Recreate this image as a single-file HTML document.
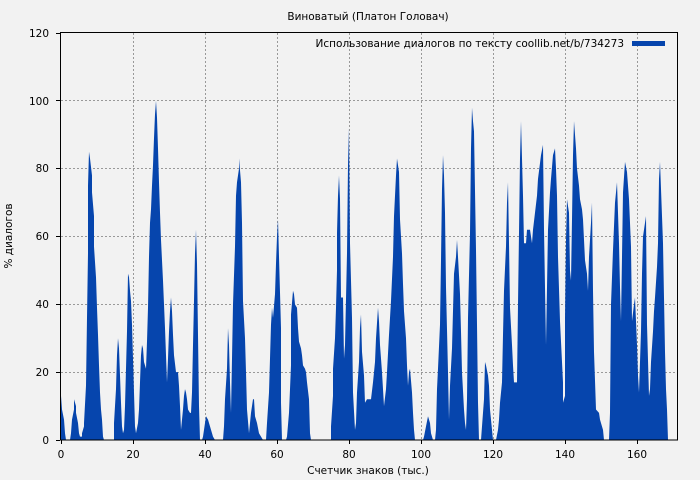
<!DOCTYPE html>
<html><head><meta charset="utf-8"><style>
html,body{margin:0;padding:0;background:#f2f2f2;}
svg{display:block;font-family:"DejaVu Sans","Liberation Sans",sans-serif;}
</style></head><body>
<svg width="700" height="480" viewBox="0 0 700 480" xmlns="http://www.w3.org/2000/svg">
<rect width="700" height="480" fill="#f2f2f2"/>
<g stroke="#999" stroke-width="1" stroke-dasharray="2,2">
<line x1="133.5" y1="33" x2="133.5" y2="440"/><line x1="205.5" y1="33" x2="205.5" y2="440"/>
<line x1="277.5" y1="33" x2="277.5" y2="440"/><line x1="349.5" y1="33" x2="349.5" y2="440"/>
<line x1="421.5" y1="33" x2="421.5" y2="440"/><line x1="493.5" y1="33" x2="493.5" y2="440"/>
<line x1="565.5" y1="33" x2="565.5" y2="440"/><line x1="637.5" y1="33" x2="637.5" y2="440"/>
<line x1="61" y1="372.5" x2="678" y2="372.5"/><line x1="61" y1="304.5" x2="678" y2="304.5"/>
<line x1="61" y1="236.5" x2="678" y2="236.5"/><line x1="61" y1="168.5" x2="678" y2="168.5"/>
<line x1="61" y1="100.5" x2="678" y2="100.5"/>
</g>
<g transform="translate(0,440) scale(1,-3.3917)">
<polygon fill="#0645ad" points="61,0 61,13 62,9 64,6 65,2 66,0 70,0 71,2 72,6 74,9 74,12 76,10 76,8 78,5 79,2 80,1 82,1 82,2 84,4 84,5 86,16 87,36 88,55 88,75 89,85 90,83 92,78 92,73 94,66 94,57 96,48 97,39 98,31 99,22 100,14 101,9 102,6 103,1 104,0 114,0 114,5 116,15 117,25 118,30 119,27 120,19 121,11 122,4 123,2 124,3 125,10 126,21 127,32 128,49 129,48 130,44 131,41 132,34 133,24 134,14 135,4 136,2 138,5 139,9 140,17 141,25 142,28 143,27 144,23 146,21 147,29 148,39 149,54 150,64 151,68 152,75 153,81 154,89 155,96 156,100 157,95 158,86 159,76 160,67 161,59 162,53 163,47 164,40 165,33 166,25 167,17 168,24 169,32 170,38 171,42 172,38 173,31 174,25 176,20 178,20 179,16 180,10 181,3 182,6 183,9 184,13 185,15 186,14 187,12 188,9 190,8 191,8 192,14 193,28 194,41 195,55 196,62 197,52 198,31 199,10 200,0 202,0 203,1 204,3 205,5 206,7 208,6 209,5 210,4 213,1 215,0 223,0 224,4 225,12 227,21 228,33 229,28 230,17 231,8 232,24 233,40 235,57 236,72 237,76 239,80 239,83 241,76 242,64 243,41 245,30 246,20 247,9 249,2 250,5 251,8 253,12 254,12 255,7 257,5 259,2 263,0 266,0 267,5 269,14 270,24 271,34 272,39 273,36 275,43 276,52 277,60 278,65 279,54 281,33 281,11 282,0 286,0 287,1 289,8 291,22 291,37 293,44 294,43 295,40 297,39 298,33 299,29 301,27 302,25 303,22 305,21 306,20 307,17 309,12 310,2 311,0 331,0 331,4 333,13 333,21 335,30 336,39 337,50 337,61 338,72 339,78 340,71 341,42 343,42 344,24 345,28 347,55 348,81 349,92 350,58 352,36 353,14 355,3 356,5 357,14 359,23 360,33 361,37 362,26 364,19 365,11 367,12 369,12 371,12 373,17 375,23 376,30 378,39 379,35 380,28 382,20 384,10 386,15 387,20 389,31 391,41 393,54 394,66 396,78 397,83 399,79 400,65 402,55 403,46 404,38 406,30 407,22 408,16 409,20 410,21 412,14 413,8 414,3 415,0 423,0 424,1 426,4 428,7 430,5 431,2 433,0 435,0 436,3 437,15 438,21 440,34 441,53 442,74 443,84 444,78 445,67 446,45 448,20 449,6 450,16 452,27 453,38 454,49 456,54 457,59 458,54 460,43 461,32 462,20 464,9 465,5 466,3 467,12 468,36 470,61 471,86 472,98 473,94 474,91 476,56 477,34 478,11 479,0 481,0 482,4 484,12 485,23 486,22 488,19 489,16 490,9 492,3 493,0 496,0 498,3 499,6 500,11 502,17 503,31 504,44 506,57 507,70 508,76 509,58 510,39 512,28 513,22 514,17 517,17 518,40 519,61 520,83 521,94 523,72 524,58 526,58 527,62 530,62 532,58 533,62 535,67 537,72 538,77 541,84 543,87 544,62 545,45 546,28 547,45 548,62 550,73 551,77 553,84 555,86 556,80 557,72 558,54 560,35 562,23 563,17 563,11 565,13 565,36 566,59 567,71 569,67 570,50 571,47 572,65 573,84 574,94 576,86 577,80 579,75 580,71 582,68 583,65 585,53 587,49 588,44 589,54 591,64 592,70 593,44 594,26 596,9 599,8 600,6 603,3 604,0 609,0 610,8 611,40 613,56 615,70 617,76 619,58 620,45 621,35 622,54 623,73 625,82 627,79 629,71 631,57 632,35 634,40 635,42 637,28 638,19 639,14 641,32 642,49 643,60 645,64 646,66 647,34 649,13 650,15 651,23 653,32 654,38 655,42 657,51 658,58 659,77 660,82 661,74 663,58 664,42 665,26 666,15 667,9 668,0"/>
</g>
<rect x="60.5" y="32.5" width="617" height="407.5" fill="none" stroke="#000" stroke-width="1"/>
<g stroke="#000" stroke-width="1">
<line x1="61.5" y1="440" x2="61.5" y2="444"/><line x1="133.5" y1="440" x2="133.5" y2="444"/>
<line x1="205.5" y1="440" x2="205.5" y2="444"/><line x1="277.5" y1="440" x2="277.5" y2="444"/>
<line x1="349.5" y1="440" x2="349.5" y2="444"/><line x1="421.5" y1="440" x2="421.5" y2="444"/>
<line x1="493.5" y1="440" x2="493.5" y2="444"/><line x1="565.5" y1="440" x2="565.5" y2="444"/>
<line x1="637.5" y1="440" x2="637.5" y2="444"/>
<line x1="56" y1="440.5" x2="60" y2="440.5"/><line x1="56" y1="372.5" x2="60" y2="372.5"/>
<line x1="56" y1="304.5" x2="60" y2="304.5"/><line x1="56" y1="236.5" x2="60" y2="236.5"/>
<line x1="56" y1="168.5" x2="60" y2="168.5"/><line x1="56" y1="100.5" x2="60" y2="100.5"/>
<line x1="56" y1="33.5" x2="60" y2="33.5"/>
</g>
<g font-size="10.5" fill="#000" text-anchor="middle">
<text x="61" y="458">0</text><text x="133" y="458">20</text><text x="205" y="458">40</text>
<text x="277" y="458">60</text><text x="349" y="458">80</text><text x="421" y="458">100</text>
<text x="493" y="458">120</text><text x="565" y="458">140</text><text x="637" y="458">160</text>
</g>
<g font-size="10.5" fill="#000" text-anchor="end">
<text x="49" y="444">0</text><text x="49" y="376">20</text><text x="49" y="308">40</text>
<text x="49" y="240">60</text><text x="49" y="172">80</text><text x="49" y="105">100</text>
<text x="49" y="37">120</text>
</g>
<text x="368" y="20" font-size="10.5" text-anchor="middle">Виноватый (Платон Головач)</text>
<text x="368" y="474" font-size="10.5" text-anchor="middle">Счетчик знаков (тыс.)</text>
<text x="12" y="236" font-size="10.5" text-anchor="middle" transform="rotate(-90 12 236)">% диалогов</text>
<text x="624" y="47" font-size="10.5" text-anchor="end">Использование диалогов по тексту coollib.net/b/734273</text>
<rect x="632" y="41" width="33" height="5" fill="#0645ad"/>
</svg>
</body></html>
